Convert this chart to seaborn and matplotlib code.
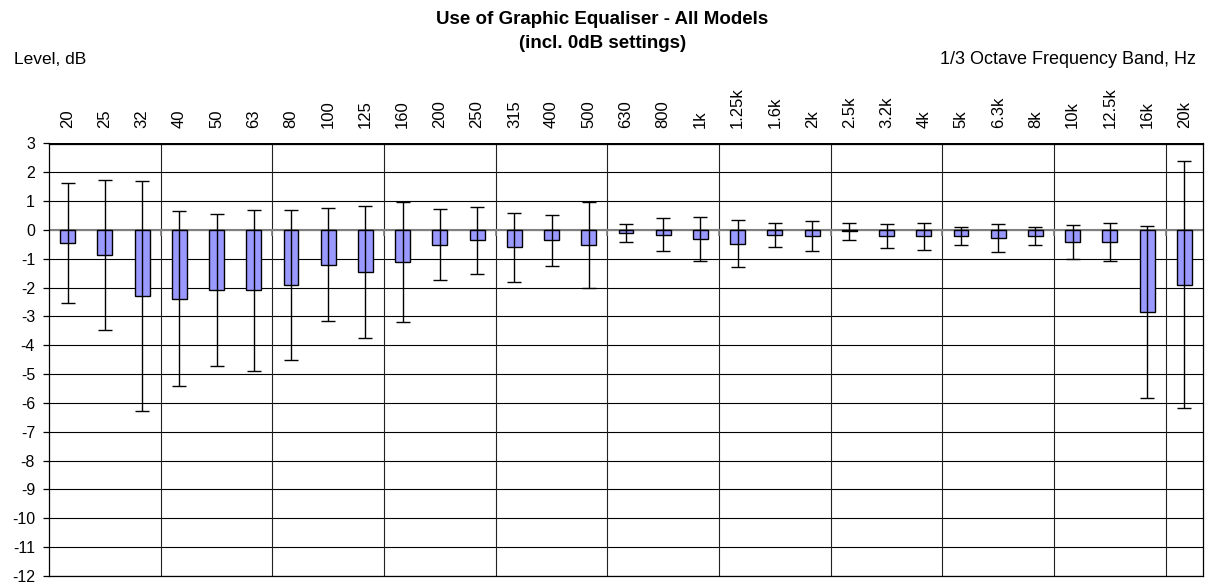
import numpy as np
import pandas as pd
import matplotlib
matplotlib.use("Agg")
import matplotlib.pyplot as plt
import seaborn as sns

bands = ["20", "25", "32", "40", "50", "63", "80", "100", "125", "160",
         "200", "250", "315", "400", "500", "630", "800", "1k", "1.25k", "1.6k",
         "2k", "2.5k", "3.2k", "4k", "5k", "6.3k", "8k", "10k", "12.5k", "16k", "20k"]
mean_level = [-0.45, -0.86, -2.29, -2.38, -2.09, -2.09, -1.90, -1.20, -1.45, -1.10,
              -0.51, -0.36, -0.60, -0.36, -0.51, -0.10, -0.16, -0.31, -0.47, -0.16,
              -0.21, -0.05, -0.21, -0.21, -0.21, -0.27, -0.21, -0.41, -0.41, -2.84, -1.90]
std_level = [2.08, 2.60, 4.00, 3.04, 2.63, 2.80, 2.60, 1.95, 2.28, 2.08,
             1.24, 1.16, 1.19, 0.88, 1.49, 0.32, 0.57, 0.77, 0.81, 0.42,
             0.51, 0.28, 0.42, 0.47, 0.32, 0.48, 0.32, 0.60, 0.65, 2.98, 4.29]
y_ticks = list(range(-12, 4))

df = pd.DataFrame({"band": bands, "level": mean_level, "sd": std_level})

sns.set_theme(style="white")
plt.rcParams["font.family"] = ["Liberation Sans", "DejaVu Sans"]
plt.rcParams["text.color"] = "black"
plt.rcParams["xtick.color"] = "black"
plt.rcParams["ytick.color"] = "black"
plt.rcParams["axes.labelcolor"] = "black"

fig = plt.figure(figsize=(12.05, 5.84), dpi=100)
ax = fig.add_axes([49 / 1205, 1 - 576 / 584, 1154 / 1205, (576 - 143.5) / 584])

sns.barplot(data=df, x="band", y="level", order=bands, color="#9999FF",
            saturation=1, width=0.4, edgecolor="black", linewidth=1.0,
            errorbar=None, ax=ax, zorder=3)

xpos = np.arange(len(bands))
ax.errorbar(xpos, df["level"], yerr=df["sd"], fmt="none", ecolor="black",
            elinewidth=1.0, capsize=5, capthick=1.0, zorder=4)

ax.set_xlim(-0.5, len(bands) - 0.5)
ax.set_ylim(min(y_ticks), max(y_ticks))
ax.set_yticks(y_ticks)
ax.set_yticklabels([str(v) for v in y_ticks], fontsize=11.5, color="black")

# horizontal gridlines
for v in y_ticks:
    ax.axhline(v, color="black", lw=0.8, zorder=1)
# vertical gridlines every 3 bands
bounds = np.arange(2.5, len(bands) - 0.5, 3)
for b in bounds:
    ax.axvline(b, color="#222222", lw=0.8, zorder=1)
# category axis at zero with tick marks
ax.axhline(0, color="#808080", lw=1.5, zorder=2)
ax.vlines(bounds, -0.2, 0, color="#808080", lw=1.2, zorder=2)

for s in ax.spines.values():
    s.set_color("black")
    s.set_linewidth(0.9)

ax.xaxis.tick_top()
ax.set_xticks(xpos)
ax.set_xticklabels(bands, rotation=90, fontsize=12, va="bottom", ha="center",
                   color="black")
ax.tick_params(axis="x", length=0, pad=11.5)
ax.tick_params(axis="y", left=True, length=4.5, width=0.9, color="black", pad=5.5)
ax.set_xlabel("")
ax.set_ylabel("")

fig.text(0.5, 1 - 20 / 584, "Use of Graphic Equaliser - All Models",
         ha="center", va="center", fontsize=13.5, fontweight="bold", color="black")
fig.text(0.5, 1 - 44 / 584, "(incl. 0dB settings)",
         ha="center", va="center", fontsize=13.5, fontweight="bold", color="black")
fig.text(14 / 1205, 1 - 60 / 584, "Level, dB", ha="left", va="center",
         fontsize=12.5, color="black")
fig.text(1196 / 1205, 1 - 59 / 584, "1/3 Octave Frequency Band, Hz",
         ha="right", va="center", fontsize=13, color="black")

fig.savefig("out.png", dpi=100)
